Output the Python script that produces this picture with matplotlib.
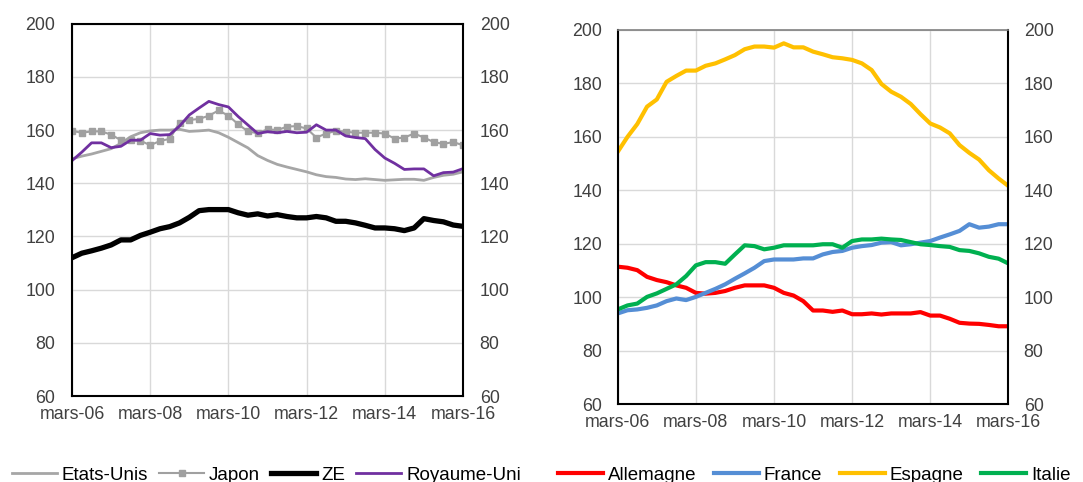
import numpy as np
import matplotlib
matplotlib.use('Agg')
import matplotlib.pyplot as plt

plt.rcParams['font.family'] = ['Liberation Sans', 'DejaVu Sans']

# trimestres mars-06 .. mars-16
quarters = np.arange(41)
tick_pos = [0, 8, 16, 24, 32, 40]
tick_labels = ['mars-06', 'mars-08', 'mars-10', 'mars-12', 'mars-14', 'mars-16']

etats_unis = [149.2, 150.2, 151.0, 152.0, 153.0, 155.0, 157.5, 159.0, 159.7, 160.0,
              160.0, 160.3, 159.5, 159.7, 160.0, 159.0, 157.3, 155.3, 153.3, 150.4,
              148.6, 147.1, 146.1, 145.2, 144.3, 143.2, 142.5, 142.2, 141.6, 141.4,
              141.7, 141.4, 141.1, 141.3, 141.5, 141.5, 141.1, 142.2, 143.0, 143.4,
              144.3]
japon = [159.7, 159.0, 159.5, 159.5, 158.3, 156.2, 156.2, 156.0, 154.3, 155.9,
         156.7, 162.8, 163.8, 164.2, 165.4, 167.4, 165.4, 162.2, 159.5, 158.8,
         160.3, 160.0, 161.3, 161.5, 160.6, 157.2, 158.7, 159.7, 159.4, 159.0,
         159.0, 159.0, 158.7, 156.8, 157.2, 158.7, 157.2, 155.5, 154.8, 155.5,
         154.3]
ze = [112.0, 113.7, 114.6, 115.6, 116.8, 118.7, 118.7, 120.4, 121.6, 122.9,
      123.7, 125.1, 127.2, 129.7, 130.1, 130.1, 130.1, 128.9, 128.0, 128.5,
      127.7, 128.2, 127.5, 127.0, 127.0, 127.5, 127.0, 125.7, 125.7, 125.1,
      124.2, 123.2, 123.2, 122.9, 122.2, 123.2, 126.7, 126.0, 125.5, 124.3,
      123.8]
royaume_uni = [148.5, 151.7, 155.2, 155.2, 153.4, 153.9, 156.2, 156.2, 158.7, 158.1,
               158.3, 161.5, 165.7, 168.3, 170.8, 169.6, 168.7, 165.1, 161.9, 158.7,
               159.4, 159.0, 159.5, 159.0, 159.2, 162.0, 160.0, 160.0, 157.8, 157.2,
               156.8, 152.7, 149.5, 147.5, 145.2, 145.4, 145.4, 142.8, 144.0, 144.2,
               145.5]

allemagne = [111.4, 111.0, 110.1, 107.6, 106.4, 105.6, 104.4, 103.5, 101.6, 101.3,
             101.6, 102.3, 103.5, 104.4, 104.4, 104.4, 103.5, 101.6, 100.6, 98.5,
             95.0, 95.0, 94.5, 95.0, 93.6, 93.6, 93.9, 93.5, 93.9, 93.9,
             93.9, 94.4, 93.1, 93.1, 91.9, 90.4, 90.1, 90.0, 89.6, 89.1,
             89.1]
france = [93.9, 95.1, 95.4, 96.0, 96.9, 98.5, 99.5, 98.9, 100.1, 101.6,
          103.1, 104.8, 106.9, 108.9, 111.0, 113.5, 114.1, 114.1, 114.1, 114.5,
          114.5, 116.0, 116.9, 117.3, 118.5, 119.1, 119.5, 120.4, 120.6, 119.4,
          119.8, 120.4, 121.0, 122.3, 123.5, 124.8, 127.3, 126.0, 126.4, 127.3,
          127.3]
espagne = [154.4, 160.0, 164.8, 171.3, 174.0, 180.6, 182.8, 184.8, 184.8, 186.6,
           187.5, 189.0, 190.6, 192.8, 193.8, 193.8, 193.4, 195.0, 193.5, 193.5,
           191.9, 190.9, 189.8, 189.4, 188.8, 187.5, 185.0, 179.8, 176.9, 175.0,
           172.3, 168.5, 165.0, 163.5, 161.3, 156.9, 154.0, 151.5, 147.5, 144.4,
           141.6]
italie = [95.4, 96.9, 97.6, 100.1, 101.4, 103.1, 104.8, 107.9, 111.9, 113.1,
          113.1, 112.5, 116.0, 119.4, 119.1, 117.9, 118.5, 119.4, 119.4, 119.4,
          119.4, 119.8, 119.8, 118.5, 121.0, 121.6, 121.6, 121.9, 121.6, 121.4,
          120.6, 119.8, 119.5, 119.1, 118.8, 117.6, 117.3, 116.4, 115.1, 114.4,
          112.6]

text_col = '#404040'

fig = plt.figure(figsize=(10.83, 4.82), dpi=100)
ax1 = fig.add_axes([0.0665, 0.1784, 0.361, 0.7724])
ax2 = fig.add_axes([0.5704, 0.1618, 0.3607, 0.776])


def style_axes(ax, pad):
    ax.set_xlim(0, 40)
    ax.set_ylim(60, 200)
    ax.set_yticks(range(60, 201, 20))
    ax.set_xticks(tick_pos)
    ax.set_xticklabels(tick_labels)
    ax.grid(True, color='#d9d9d9', linewidth=1.0)
    ax.set_axisbelow(True)
    ax.tick_params(axis='y', length=0, labelsize=12.8, labelcolor=text_col,
                   labelright=True, pad=pad)
    ax.tick_params(axis='x', length=0, labelsize=12.8, labelcolor=text_col, pad=7)
    for sp in ax.spines.values():
        sp.set_color('black')
        sp.set_linewidth(1.5)


style_axes(ax1, 12)
style_axes(ax2, 11)
ax2.spines['top'].set_color('#808080')
ax2.spines['top'].set_linewidth(1.2)

ax1.plot(quarters, etats_unis, color='#a6a6a6', lw=2.0, label='Etats-Unis')
ax1.plot(quarters, japon, color='#a0a0a0', lw=1.5, marker='s', markersize=4.5,
         label='Japon')
ax1.plot(quarters, ze, color='black', lw=3.8, label='ZE')
ax1.plot(quarters, royaume_uni, color='#7030a0', lw=2.0, label='Royaume-Uni')

ax2.plot(quarters, allemagne, color='#ff0000', lw=3.0, label='Allemagne')
ax2.plot(quarters, france, color='#558ed5', lw=3.0, label='France')
ax2.plot(quarters, espagne, color='#ffc000', lw=3.0, label='Espagne')
ax2.plot(quarters, italie, color='#00b050', lw=3.0, label='Italie')

for ax, cx, cs in [(ax1, 0.246, 0.6), (ax2, 0.752, 0.95)]:
    h, l = ax.get_legend_handles_labels()
    leg = fig.legend(h, l, loc='center', bbox_to_anchor=(cx, 0.014), ncol=4,
                     frameon=False, fontsize=13.5, handlelength=2.4,
                     handletextpad=0.25, columnspacing=cs, borderaxespad=0)
    for t in leg.get_texts():
        t.set_color('black')

fig.savefig('out.png', dpi=100)
